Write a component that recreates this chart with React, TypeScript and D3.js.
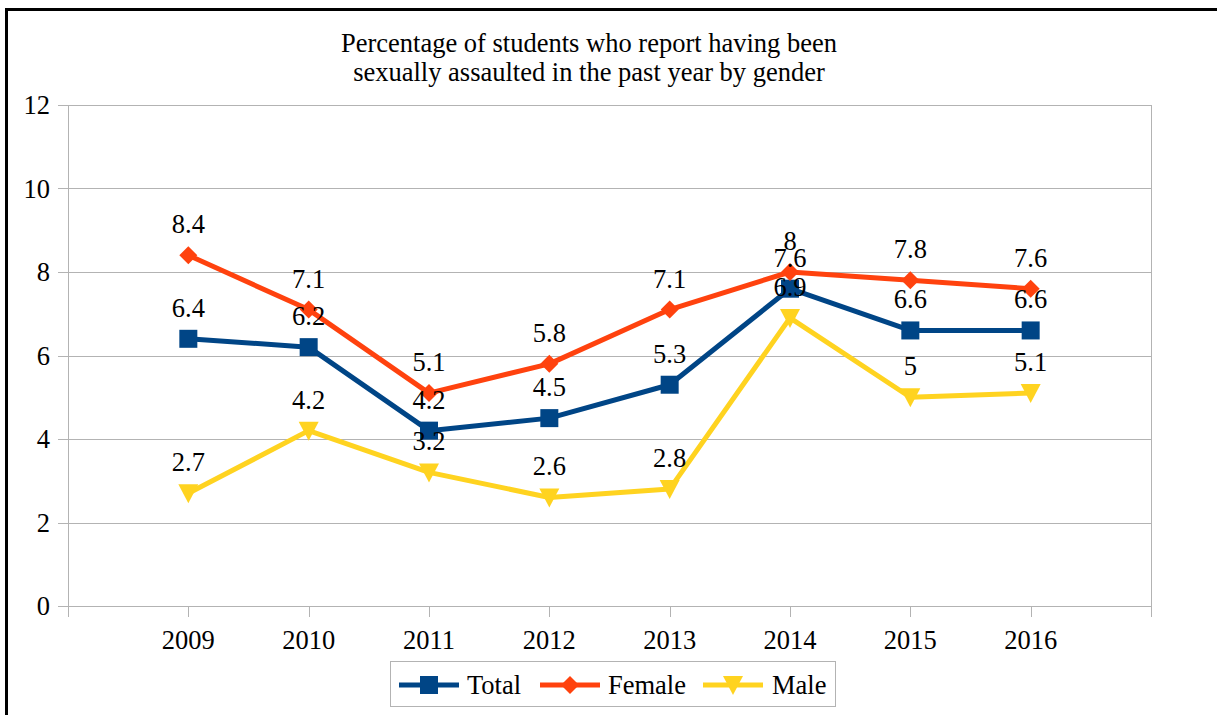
import React from "react";
import * as d3 from "d3";

const years = [2009, 2010, 2011, 2012, 2013, 2014, 2015, 2016];
const totalValues = [6.4, 6.2, 4.2, 4.5, 5.3, 7.6, 6.6, 6.6];
const femaleValues = [8.4, 7.1, 5.1, 5.8, 7.1, 8, 7.8, 7.6];
const maleValues = [2.7, 4.2, 3.2, 2.6, 2.8, 6.9, 5, 5.1];
const yTicks = [0, 2, 4, 6, 8, 10, 12];
const titleLines = [
  "Percentage of students who report having been",
  "sexually assaulted in the past year by gender",
];

const series = [
  { name: "Total", values: totalValues, color: "#004586", marker: "square" },
  { name: "Female", values: femaleValues, color: "#ff420e", marker: "diamond" },
  { name: "Male", values: maleValues, color: "#ffd320", marker: "triangle" },
];

const W = 1217;
const H = 715;
const left = 68;
const right = 1151;
const top = 105;
const bottom = 606;
const FS = 26.5;
const FONT = "'Liberation Serif', 'Times New Roman', serif";

const x = d3.scaleLinear().domain([2008, 2017]).range([left, right]);
const y = d3.scaleLinear().domain([0, 12]).range([bottom, top]);

function Marker({ type, cx, cy, color }: { type: string; cx: number; cy: number; color: string }) {
  if (type === "square") {
    return <rect x={cx - 9} y={cy - 9} width={18} height={18} fill={color} />;
  }
  if (type === "diamond") {
    return <path d={`M${cx},${cy - 9}L${cx + 9},${cy}L${cx},${cy + 9}L${cx - 9},${cy}Z`} fill={color} />;
  }
  return <path d={`M${cx - 10},${cy - 9}L${cx + 10},${cy - 9}L${cx},${cy + 10}Z`} fill={color} />;
}

export default function App() {
  const line = d3
    .line<number>()
    .x((_, i) => x(years[i]))
    .y((d) => y(d));
  const allTicks = d3.range(2008, 2018);
  const legendItems = [
    { s: series[0], lx: 399, tx: 467 },
    { s: series[1], lx: 540, tx: 608 },
    { s: series[2], lx: 703, tx: 772 },
  ];
  return (
    <svg
      width={W}
      height={H}
      style={{ position: "absolute", left: 0, top: 0, background: "#fff" }}
      fontFamily={FONT}
    >
      <rect x={6.5} y={9.5} width={1230} height={730} fill="#fff" stroke="#000" strokeWidth={3} />
      {titleLines.map((t, i) => (
        <text key={i} x={589} y={52 + i * 29} textAnchor="middle" fontSize={FS} fill="#000">
          {t}
        </text>
      ))}
      {yTicks.map((t) => (
        <g key={t}>
          <line x1={58} x2={right} y1={Math.round(y(t)) + 0.5} y2={Math.round(y(t)) + 0.5} stroke="#b3b3b3" strokeWidth={1} />
          <text x={50} y={y(t) + 9} textAnchor="end" fontSize={FS} fill="#000">
            {t}
          </text>
        </g>
      ))}
      <line x1={left + 0.5} x2={left + 0.5} y1={top} y2={bottom + 11} stroke="#b3b3b3" />
      <line x1={right + 0.5} x2={right + 0.5} y1={top} y2={bottom + 11} stroke="#b3b3b3" />
      {allTicks.map((t) => (
        <line key={t} x1={Math.round(x(t)) + 0.5} x2={Math.round(x(t)) + 0.5} y1={bottom} y2={bottom + 11} stroke="#b3b3b3" />
      ))}
      {years.map((yr) => (
        <text key={yr} x={x(yr)} y={649} textAnchor="middle" fontSize={FS} fill="#000">
          {yr}
        </text>
      ))}
      {series.map((s) => (
        <g key={s.name}>
          <path d={line(s.values) || ""} fill="none" stroke={s.color} strokeWidth={5} strokeLinejoin="round" />
          {s.values.map((v, i) => (
            <Marker key={i} type={s.marker} cx={x(years[i])} cy={y(v)} color={s.color} />
          ))}
        </g>
      ))}
      {series.map((s) =>
        s.values.map((v, i) => (
          <text key={s.name + i} x={x(years[i])} y={y(v) - 22} textAnchor="middle" fontSize={FS} fill="#000">
            {String(v)}
          </text>
        ))
      )}
      <rect x={390.5} y={661.5} width={445} height={45} fill="#fff" stroke="#b3b3b3" />
      {legendItems.map(({ s, lx, tx }) => (
        <g key={s.name}>
          <line x1={lx} x2={lx + 60} y1={685} y2={685} stroke={s.color} strokeWidth={5} />
          <Marker type={s.marker} cx={lx + 30} cy={685} color={s.color} />
          <text x={tx} y={694} fontSize={FS} fill="#000">
            {s.name}
          </text>
        </g>
      ))}
    </svg>
  );
}
